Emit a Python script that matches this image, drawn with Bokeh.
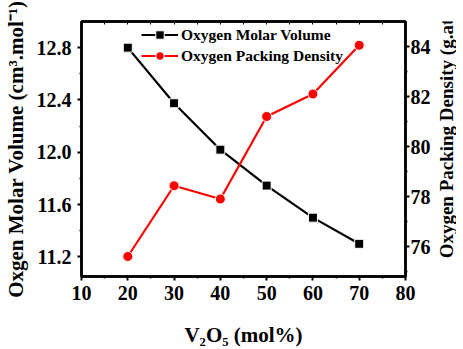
from bokeh.plotting import figure
from bokeh.models import (Range1d, LinearAxis, FixedTicker, Legend, LegendItem,
                          ColumnDataSource, PrintfTickFormatter)
from bokeh.layouts import row
from bokeh.core.properties import value
from bokeh.embed import file_html
from bokeh.resources import INLINE
import math

# Data
v2o5 = [20, 30, 40, 50, 60, 70]
molar_volume = [12.80, 12.375, 12.02, 11.745, 11.50, 11.30]
packing_density = [75.6, 78.43, 77.9, 81.2, 82.1, 84.05]

x_ticks = [10, 20, 30, 40, 50, 60, 70, 80]
left_ticks = [11.2, 11.6, 12.0, 12.4, 12.8]
right_ticks = [76, 78, 80, 82, 84]
top_ticks = [15, 20, 25, 30, 35, 40, 45, 50, 55, 60, 65, 70, 75]

x_title = "V₂O₅ (mol%)"
left_title = "Oxgen Molar Volume (cm³.mol⁻¹)"
right_title = "Oxygen Packing Density (g.atm.L⁻¹)"

FONT = "Liberation Serif"

p = figure(frame_width=324, frame_height=255, x_range=Range1d(10, 80), y_range=Range1d(11.05, 13.0),
           output_backend="svg", toolbar_location=None,
           min_border_left=75, min_border_right=25, min_border_top=21, min_border_bottom=57)
p.extra_y_ranges = {"r": Range1d(74.8, 85.0)}
p.align = "start"

p.xgrid.visible = False
p.ygrid.visible = False
p.outline_line_color = "black"
p.outline_line_width = 2.5
p.background_fill_color = "white"
p.border_fill_color = "white"


def style_axis(ax, ticks, minor):
    ax.ticker = FixedTicker(ticks=ticks, minor_ticks=minor)
    ax.axis_line_width = 2.5
    ax.axis_line_color = "black"
    ax.major_tick_line_width = 2
    ax.major_tick_in = 0
    ax.major_tick_out = 4
    ax.minor_tick_line_width = 1.5
    ax.minor_tick_in = 0
    ax.minor_tick_out = 2
    ax.major_label_text_font = FONT
    ax.major_label_text_font_style = "bold"
    ax.major_label_text_font_size = "20px"
    ax.major_label_text_color = "black"
    ax.axis_label_text_font = FONT
    ax.axis_label_text_font_style = "bold"
    ax.axis_label_text_font_size = "21px"
    ax.axis_label_text_color = "black"


xa = p.xaxis[0]
style_axis(xa, x_ticks, [15, 25, 35, 45, 55, 65, 75])
xa.axis_label = x_title
xa.major_label_standoff = 5
xa.axis_label_standoff = 20

ya = p.yaxis[0]
style_axis(ya, left_ticks, [11.4, 11.8, 12.2, 12.6])
ya.formatter = PrintfTickFormatter(format="%.1f")
ya.axis_label = left_title
ya.major_label_standoff = 6
ya.axis_label_standoff = 6

ra = LinearAxis(y_range_name="r")
style_axis(ra, right_ticks, [75, 77, 79, 81, 83])
ra.major_label_standoff = 1
p.add_layout(ra, "right")

top = LinearAxis()
top.ticker = FixedTicker(ticks=top_ticks)
top.major_label_overrides = {t: "" for t in top_ticks}
top.major_label_standoff = 0
top.axis_line_width = 2.5
top.major_tick_in = 3
top.major_tick_out = 0
top.major_tick_line_width = 1
top.minor_tick_line_color = None
p.add_layout(top, "above")

src = ColumnDataSource(dict(x=v2o5, mv=molar_volume, pd=packing_density))

l1 = p.line("x", "mv", source=src, line_color="black", line_width=2.2)
m1 = p.scatter("x", "mv", source=src, marker="square", size=9, fill_color="black",
               line_color="white", line_width=1)
l2 = p.line("x", "pd", source=src, line_color="red", line_width=2.2, y_range_name="r")
m2 = p.scatter("x", "pd", source=src, marker="circle", size=10, fill_color="red",
               line_color="white", line_width=1, y_range_name="r")

legend = Legend(items=[
    LegendItem(label="Oxygen Molar Volume", renderers=[l1, m1]),
    LegendItem(label="Oxygen Packing Density", renderers=[l2, m2]),
], location=(60, 210))
legend.border_line_color = None
legend.background_fill_alpha = 0
legend.label_text_font = FONT
legend.label_text_font_style = "bold"
legend.label_text_font_size = "15.5px"
legend.label_text_color = "black"
legend.glyph_width = 37
legend.glyph_height = 21
legend.label_height = 21
legend.label_standoff = 3
legend.spacing = 0
legend.padding = 0
legend.margin = 0
p.add_layout(legend, "center")

# narrow strip to the right holding the right-axis title, reading bottom-to-top
pr = figure(width=23, height=341, x_range=Range1d(0, 23), y_range=Range1d(0, 341),
            x_axis_type=None, y_axis_type=None, output_backend="svg", toolbar_location=None,
            min_border=0)
pr.align = "start"
pr.outline_line_color = None
pr.background_fill_color = "white"
pr.border_fill_color = "white"
pr.xgrid.visible = False
pr.ygrid.visible = False
pr.text(x=[13], y=[14], text=[right_title], angle=math.pi / 2, text_align="left",
        text_baseline="middle", text_font=value(FONT), text_font_style="bold",
        text_font_size="19px", text_color="black")

layout = row(p, pr, spacing=0)
open("out.html", "w").write(file_html(layout, INLINE))
